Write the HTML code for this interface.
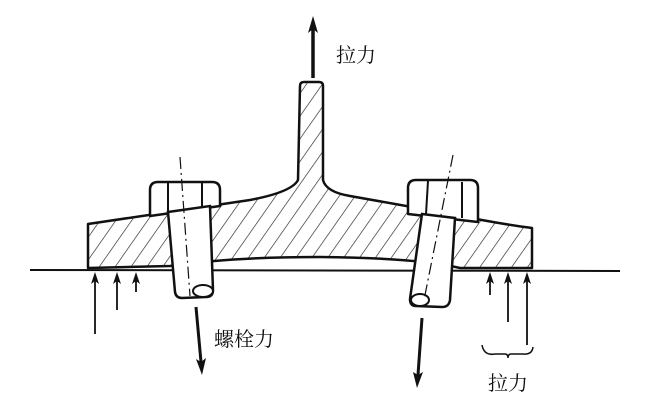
<!DOCTYPE html>
<html><head><meta charset="utf-8"><style>
html,body{margin:0;padding:0;background:#fff;}
svg{display:block;}
text{font-family:"Liberation Serif","Noto Serif CJK SC","Noto Sans CJK SC",serif;fill:#111;}
</style></head><body>
<svg width="657" height="410" viewBox="0 0 657 410" xmlns="http://www.w3.org/2000/svg">
<defs>
<pattern id="h" patternUnits="userSpaceOnUse" width="13" height="13" patternTransform="rotate(35)">
<line x1="0" y1="0" x2="0" y2="13" stroke="#222" stroke-width="1.3"/>
</pattern>
</defs>
<!-- ground line -->
<line x1="30" y1="270" x2="620" y2="271" stroke="#111" stroke-width="2"/>
<!-- body -->
<path d="M88,224 L250,200 Q292,192 298,180 L300,86 Q300,82 304,82 L319,82 Q323,82 323,86 L323,180 Q326,192 350,196 L440,212 Q500,224 532,228 L532,268 L460,268 Q420,258 320,257 Q230,257 170,266 L88,268 Z" fill="url(#h)" stroke="#111" stroke-width="2.5" stroke-linejoin="round"/>
<!-- left bolt head -->
<path d="M150,216 L150,190 Q150,182 158,182 L212,182 Q220,182 220,190 L220,206 Z" fill="#fff" stroke="#111" stroke-width="2.5" stroke-linejoin="round"/>
<line x1="168" y1="183" x2="168" y2="213" stroke="#111" stroke-width="2"/>
<line x1="202" y1="183" x2="202" y2="208" stroke="#111" stroke-width="2"/>
<!-- left shank -->
<path d="M168,212 L210,206 L213,290 Q213,297 206,297 L182,298 Q176,298 175,292 Z" fill="#fff" stroke="#111" stroke-width="2.5"/>
<ellipse cx="203" cy="291" rx="10" ry="6" fill="#fff" stroke="#111" stroke-width="2"/>
<line x1="180" y1="157" x2="190" y2="296" stroke="#111" stroke-width="1.2" stroke-dasharray="12,4,2,4"/>
<!-- right bolt head -->
<path d="M408,214 L408,188 Q408,180 416,180 L470,180 Q478,180 478,188 L478,222 Z" fill="#fff" stroke="#111" stroke-width="2.5" stroke-linejoin="round"/>
<line x1="428" y1="181" x2="426" y2="214" stroke="#111" stroke-width="2"/>
<line x1="462" y1="182" x2="462" y2="218" stroke="#111" stroke-width="2"/>
<!-- right shank -->
<path d="M422,214 L455,218 L450,300 Q449,307 442,307 L416,306 Q410,306 410,299 Z" fill="#fff" stroke="#111" stroke-width="2.5"/>
<ellipse cx="420" cy="300" rx="9" ry="6" fill="#fff" stroke="#111" stroke-width="2"/>
<line x1="453" y1="155" x2="424" y2="300" stroke="#111" stroke-width="1.2" stroke-dasharray="12,4,2,4"/>
<!-- top arrow -->
<line x1="313" y1="78" x2="313" y2="26" stroke="#111" stroke-width="3.5"/>
<polygon points="308,33 313,16 318,33 313,29" fill="#111"/>
<text x="336" y="62" font-size="20">拉力</text>
<!-- left reaction arrows -->
<g stroke="#111" stroke-width="1.8">
<line x1="95" y1="334" x2="95" y2="280"/>
<line x1="117" y1="310" x2="117" y2="280"/>
<line x1="136" y1="292" x2="136" y2="280"/>
<line x1="490" y1="295" x2="490" y2="280"/>
<line x1="508" y1="322" x2="508" y2="280"/>
<line x1="527" y1="345" x2="527" y2="280"/>
</g>
<g fill="#111">
<polygon points="91,284 95,272 99,284 95,281"/>
<polygon points="113,284 117,272 121,284 117,281"/>
<polygon points="132,284 136,272 140,284 136,281"/>
<polygon points="486,284 490,272 494,284 490,281"/>
<polygon points="504,284 508,272 512,284 508,281"/>
<polygon points="523,284 527,272 531,284 527,281"/>
</g>
<!-- brace -->
<path d="M482,345 Q484,356 495,354 L505,354 Q508,354 508,358 Q508,354 511,354 L523,354 Q532,355 533,347" fill="none" stroke="#111" stroke-width="1.5"/>
<text x="488" y="390" font-size="20">拉力</text>
<!-- bolt force arrows -->
<line x1="196" y1="307" x2="201" y2="362" stroke="#111" stroke-width="3"/>
<polygon points="196,359 202,375 206,358 201,362" fill="#111"/>
<line x1="422" y1="318" x2="418" y2="375" stroke="#111" stroke-width="3"/>
<polygon points="413,372 417,388 423,372 418,375" fill="#111"/>
<text x="214" y="346" font-size="20">螺栓力</text>
</svg>
</body></html>
